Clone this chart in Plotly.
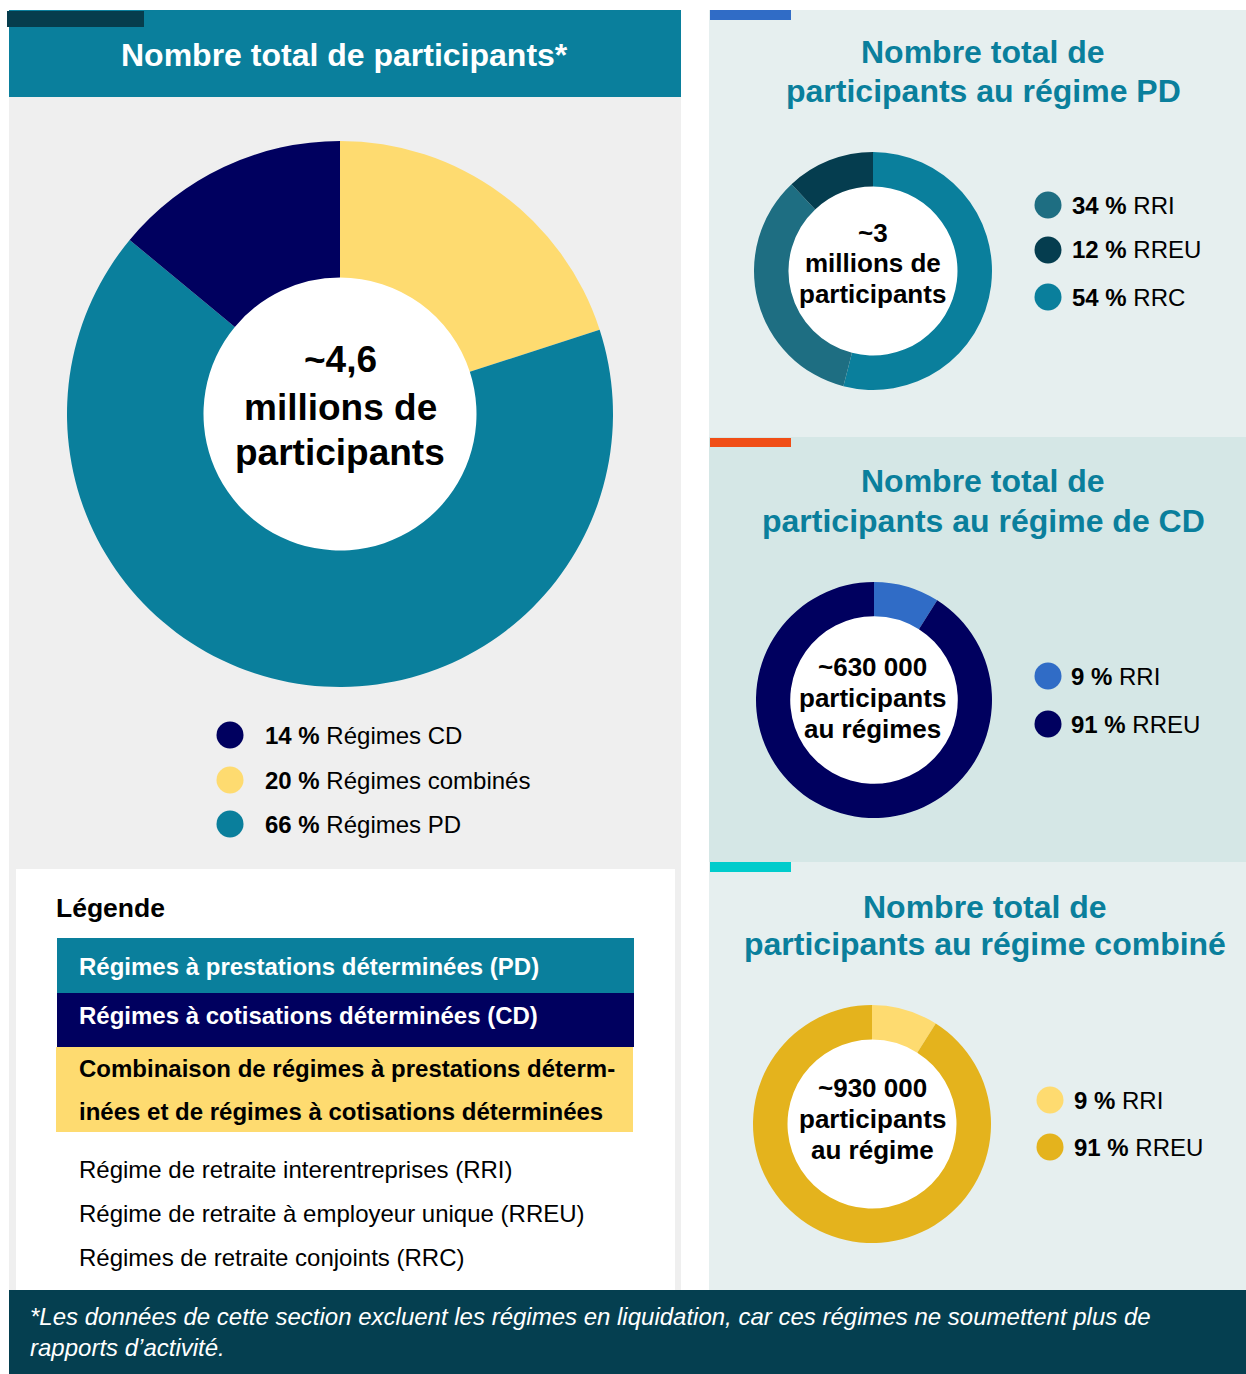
import plotly.graph_objects as go

W, H = 1246, 1374

# ---------------- data ----------------
main_labels = ["Régimes CD", "Régimes combinés", "Régimes PD"]
main_values = [14, 20, 66]
main_colors = ["#00005f", "#fedb70", "#0a7f9c"]
main_slice_order = [1, 2, 0]
main_center = ["~4,6", "millions de", "participants"]

pd_labels = ["RRI", "RREU", "RRC"]
pd_values = [34, 12, 54]
pd_colors = ["#1e6e82", "#053d4f", "#0a7f9c"]
pd_slice_order = [2, 0, 1]
pd_center = ["~3", "millions de", "participants"]
pd_title = ["Nombre total de", "participants au régime PD"]

cd_labels = ["RRI", "RREU"]
cd_values = [9, 91]
cd_colors = ["#306cc6", "#00005f"]
cd_slice_order = [0, 1]
cd_center = ["~630 000", "participants", "au régimes"]
cd_title = ["Nombre total de", "participants au régime de CD"]

cb_labels = ["RRI", "RREU"]
cb_values = [9, 91]
cb_colors = ["#fedb70", "#e4b31d"]
cb_slice_order = [0, 1]
cb_center = ["~930 000", "participants", "au régime"]
cb_title = ["Nombre total de", "participants au régime combiné"]

header_title = "Nombre total de participants*"
legend_heading = "Légende"
legend_bands = [
    ("Régimes à prestations déterminées (PD)", "#0a7f9c", "white"),
    ("Régimes à cotisations déterminées (CD)", "#00005f", "white"),
]
legend_combined = ["Combinaison de régimes à prestations déterm-",
                   "inées et de régimes à cotisations déterminées"]
legend_terms = ["Régime de retraite interentreprises (RRI)",
                "Régime de retraite à employeur unique (RREU)",
                "Régimes de retraite conjoints (RRC)"]
footnote = ["*Les données de cette section excluent les régimes en liquidation, car ces régimes ne soumettent plus de",
            "rapports d’activité."]

FONT = "Liberation Sans, Arial, sans-serif"
TEAL = "#0a7f9c"


def px(x):
    return x / W


def py(y):
    return 1 - y / H


shapes = []
annotations = []


def rect(x0, y0, x1, y1, color):
    shapes.append(dict(type="rect", xref="paper", yref="paper",
                       x0=px(x0), x1=px(x1), y0=py(y1), y1=py(y0),
                       fillcolor=color, line=dict(width=0), layer="below"))


def circle(cx, cy, r, color):
    shapes.append(dict(type="circle", xref="paper", yref="paper",
                       x0=px(cx - r), x1=px(cx + r), y0=py(cy + r), y1=py(cy - r),
                       fillcolor=color, line=dict(width=0), layer="below"))


def text(x, y, t, size, color="black", anchor="left", bold=False, italic=False):
    if bold:
        t = "<b>" + t + "</b>"
    if italic:
        t = "<i>" + t + "</i>"
    if anchor == "left":
        x -= 2
    annotations.append(dict(x=px(x), y=py(y), xref="paper", yref="paper", text=t,
                            showarrow=False, xanchor=anchor, yanchor="middle",
                            font=dict(family=FONT, size=size, color=color)))


# ---------------- backgrounds ----------------
rect(9, 97, 681, 1290, "#efefef")
rect(9, 10, 681, 97, TEAL)
rect(7, 11, 144, 27, "#063d4d")
rect(16, 869, 675, 1290, "white")
rect(709, 10, 1246, 437, "#e6efef")
rect(709, 437, 1246, 862, "#d5e7e6")
rect(709, 862, 1246, 1290, "#e6efef")
rect(710, 10, 791, 20, "#306cc6")
rect(710, 438, 791, 447, "#f04e16")
rect(710, 862, 791, 872, "#00cccc")
rect(9, 1290, 1246, 1374, "#053f50")
rect(57, 938, 634, 993, legend_bands[0][1])
rect(57, 993, 634, 1047, legend_bands[1][1])
rect(56, 1047, 633, 1132, "#fedb70")

fig = go.Figure()


def donut(cx, cy, R, hole, labels, values, colors, order):
    circle(cx, cy, R * hole + 1, "white")
    fig.add_trace(go.Pie(
        labels=[labels[i] for i in order],
        values=[values[i] for i in order],
        marker=dict(colors=[colors[i] for i in order], line=dict(width=0)),
        hole=hole, sort=False, direction="clockwise", rotation=0,
        textinfo="none", hoverinfo="label+percent", showlegend=False,
        domain=dict(x=[px(cx - R), px(cx + R)], y=[py(cy + R), py(cy - R)]),
    ))


def legend(cx, ys, tx, labels, values, colors, r=13.5):
    for lab, v, c, y in zip(labels, values, colors, ys):
        circle(cx, y, r, c)
        annotations.append(dict(x=px(tx - 1), y=py(y), xref="paper", yref="paper",
                                text=f"<b>{v} %</b> {lab}", showarrow=False,
                                xanchor="left", yanchor="middle",
                                font=dict(family=FONT, size=24, color="black")))


# main donut
donut(340, 414, 273, 0.50, main_labels, main_values, main_colors, main_slice_order)
for t, y in zip(main_center, [360, 407, 453]):
    text(340, y, t, 37, anchor="center", bold=True)
legend(230, [735, 780, 824], 264, main_labels, main_values, main_colors)

# PD donut
donut(873, 271, 119, 0.71, pd_labels, pd_values, pd_colors, pd_slice_order)
for t, y in zip(pd_center, [233, 263, 294]):
    text(873, y, t, 26, anchor="center", bold=True)
legend(1048, [205, 250, 297], 1071, pd_labels, pd_values, pd_colors)
for t, y in zip(pd_title, [52, 91]):
    text(983, y, t, 32, color=TEAL, anchor="center", bold=True)

# CD donut
donut(874, 700, 118, 0.71, cd_labels, cd_values, cd_colors, cd_slice_order)
for t, y in zip(cd_center, [667, 698, 729]):
    text(873, y, t, 26, anchor="center", bold=True)
legend(1048, [676, 724], 1070, cd_labels, cd_values, cd_colors)
for t, y in zip(cd_title, [481, 521]):
    text(983, y, t, 32, color=TEAL, anchor="center", bold=True)

# combined donut
donut(872, 1124, 119, 0.71, cb_labels, cb_values, cb_colors, cb_slice_order)
for t, y in zip(cb_center, [1088, 1119, 1150]):
    text(873, y, t, 26, anchor="center", bold=True)
legend(1050, [1100, 1147], 1073, cb_labels, cb_values, cb_colors)
for t, y in zip(cb_title, [907, 944]):
    text(985, y, t, 32, color=TEAL, anchor="center", bold=True)

# header
text(344, 55, header_title, 32, color="white", anchor="center", bold=True)

# legend box
text(56, 908, legend_heading, 26.5, bold=True)
text(79, 966, legend_bands[0][0], 24, color=legend_bands[0][2], bold=True)
text(79, 1015, legend_bands[1][0], 24, color=legend_bands[1][2], bold=True)
for t, y in zip(legend_combined, [1068, 1111]):
    text(79, y, t, 24, bold=True)
for t, y in zip(legend_terms, [1169, 1213, 1257]):
    text(79, y, t, 24)

# footnote
for t, y in zip(footnote, [1316, 1347]):
    text(30, y, t, 24, color="white", italic=True)

fig.update_layout(width=W, height=H, margin=dict(l=0, r=0, t=0, b=0),
                  paper_bgcolor="white", plot_bgcolor="white",
                  showlegend=False, shapes=shapes, annotations=annotations)

fig.write_html("out.html", config={"displayModeBar": False},
               post_script="document.body.style.margin='0';")
